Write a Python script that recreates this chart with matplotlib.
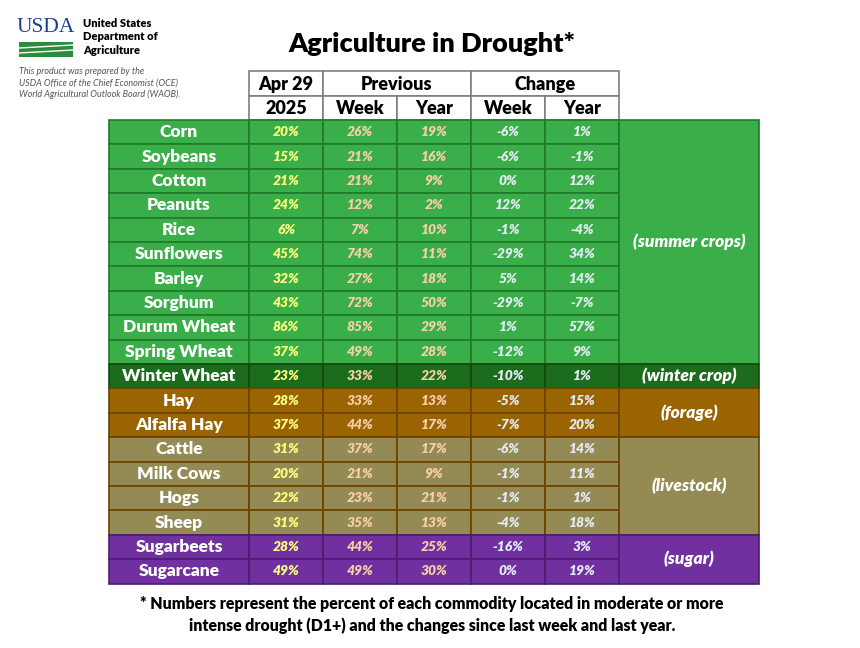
import matplotlib
matplotlib.use("Agg")
import matplotlib.pyplot as plt
from matplotlib.patches import Rectangle

commodities = ["Corn","Soybeans","Cotton","Peanuts","Rice","Sunflowers","Barley","Sorghum",
               "Durum Wheat","Spring Wheat","Winter Wheat","Hay","Alfalfa Hay","Cattle",
               "Milk Cows","Hogs","Sheep","Sugarbeets","Sugarcane"]
current = [20,15,21,24,6,45,32,43,86,37,23,28,37,31,20,22,31,28,49]
prev_week = [26,21,21,12,7,74,27,72,85,49,33,33,44,37,21,23,35,44,49]
prev_year = [19,16,9,2,10,11,18,50,29,28,22,13,17,17,9,21,13,25,30]
chg_week = [-6,-6,0,12,-1,-29,5,-29,1,-12,-10,-5,-7,-6,-1,-1,-4,-16,0]
chg_year = [1,-1,12,22,-4,34,14,-7,57,9,1,15,20,14,11,1,18,3,19]
groups = [("(summer crops)",0,10),("(winter crop)",10,11),("(forage)",11,13),
          ("(livestock)",13,17),("(sugar)",17,19)]
group_fill = ["#3aae48","#1d6b1d","#9a6403","#948a54","#7030a0"]
group_edge = ["#1f7a2a","#0f4a0f","#6b4200","#6b4200","#4b1d70"]

W,H = 860,648
fig = plt.figure(figsize=(W/100,H/100),dpi=100)
ax = fig.add_axes([0,0,1,1])
ax.set_xlim(0,W); ax.set_ylim(H,0); ax.axis("off")
FF = "Lato"

xs = [109,249,323,397,471,545,619,759]
top0 = 120; rh = 24.4

for (x0,x1,y0,y1,t) in [(249,323,71,96,"Apr 29"),(323,471,71,96,"Previous"),(471,619,71,96,"Change"),
                         (249,323,96,120,"2025"),(323,397,96,120,"Week"),(397,471,96,120,"Year"),
                         (471,545,96,120,"Week"),(545,619,96,120,"Year")]:
    ax.add_patch(Rectangle((x0,y0),x1-x0,y1-y0,fc="white",ec="#7f7f7f",lw=1.2))
    ax.text((x0+x1)/2,(y0+y1)/2+1,t,ha="center",va="center",fontsize=13,fontweight="heavy",family=FF,color="black")

txtcols = ["#ffff80","#f7cfa8","#f7cfa8","#e4ecf5","#e4ecf5"]
def gidx(i):
    for k,(n,a,b) in enumerate(groups):
        if a<=i<b: return k
for i,name in enumerate(commodities):
    k = gidx(i); y0 = top0+i*rh
    vals = [current[i],prev_week[i],prev_year[i],chg_week[i],chg_year[i]]
    for c in range(6):
        ax.add_patch(Rectangle((xs[c],y0),xs[c+1]-xs[c],rh,fc=group_fill[k],ec=group_edge[k],lw=1.2))
    ax.text((xs[0]+xs[1])/2,y0+rh/2,name,ha="center",va="center",fontsize=12.5,fontweight="heavy",family=FF,color="white")
    for c,v in enumerate(vals):
        ax.text((xs[c+1]+xs[c+2])/2,y0+rh/2,f"{v}%",ha="center",va="center",fontsize=10,
                fontweight="heavy",style="italic",family=FF,color=txtcols[c])
for k,(n,a,b) in enumerate(groups):
    y0 = top0+a*rh; h=(b-a)*rh
    ax.add_patch(Rectangle((xs[6],y0),xs[7]-xs[6],h,fc=group_fill[k],ec=group_edge[k],lw=1.2))
    ax.text((xs[6]+xs[7])/2,y0+h/2,n,ha="center",va="center",fontsize=12.5,fontweight="heavy",
            style="italic",family=FF,color="white")

ax.text(432,44,"Agriculture in Drought*",ha="center",va="center",fontsize=19.5,fontweight="heavy",family=FF,color="black")
ax.text(17,28,"USDA",ha="left",va="center",fontsize=15.5,color="#1b3f8f",family="Liberation Serif")
ax.add_patch(Rectangle((19,42),54,15,fc="#2e8b3e",ec="none"))
for yy in (45,50):
    ax.plot([19,73],[yy+3,yy],color="white",lw=1)
ax.text(83,37,"United States\nDepartment of\nAgriculture",ha="left",va="center",fontsize=8,
        fontweight="heavy",family=FF,color="black",linespacing=1.3)
ax.text(19,83,"This product was prepared by the\nUSDA Office of the Chief Economist (OCE)\nWorld Agricultural Outlook Board (WAOB).",
        ha="left",va="center",fontsize=6.5,style="italic",family=FF,color="#555555",linespacing=1.3)
ax.text(432,615,"* Numbers represent the percent of each commodity located in moderate or more\nintense drought (D1+) and the changes since last week and last year.",
        ha="center",va="center",fontsize=11.4,fontweight="heavy",family=FF,color="black",linespacing=1.45)
fig.savefig("out.png",dpi=100)
